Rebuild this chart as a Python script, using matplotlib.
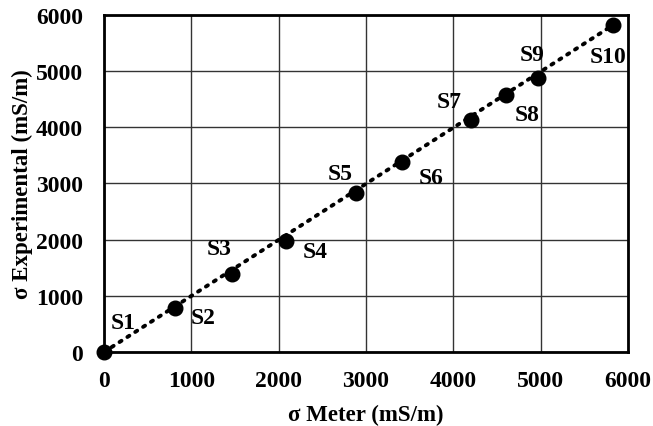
import matplotlib
matplotlib.use("Agg")
import matplotlib.pyplot as plt

# sample values
labels = ["S1", "S2", "S3", "S4", "S5", "S6", "S7", "S8", "S9", "S10"]
meter = [0, 815, 1465, 2085, 2890, 3415, 4205, 4605, 4970, 5830]
experimental = [0, 790, 1395, 1980, 2835, 3385, 4120, 4570, 4870, 5820]

# label offsets in points, relative to each point
offsets = [(14, 21), (20, -7), (-9, 18), (21, -8), (-12, 14),
           (21, -11), (-16, 14), (15, -14), (-4, 17), (-4, -23)]

plt.rcParams['font.family'] = ['Liberation Serif', 'DejaVu Serif']
plt.rcParams['font.weight'] = 'bold'

fig = plt.figure(figsize=(6.53, 4.27), dpi=100)
ax = fig.add_axes([0.159, 0.173, 0.803, 0.79])

# trend line through the origin and the last sample
ax.plot([0, meter[-1]], [0, experimental[-1]], color='black', linestyle=(0, (0.6, 1.8)),
        linewidth=2.8, dash_capstyle='round', zorder=3)
ax.plot(meter, experimental, 'o', color='black', markersize=10.5, zorder=4, clip_on=False)

for lab, x, y, off in zip(labels, meter, experimental, offsets):
    ax.annotate(lab, (x, y), xytext=off, textcoords='offset points',
                ha='center', va='center', fontsize=17, fontweight='bold')

ax.set_xlim(0, 6000)
ax.set_ylim(0, 6000)
ax.set_xticks(range(0, 6001, 1000))
ax.set_yticks(range(0, 6001, 1000))
ax.tick_params(length=0, labelsize=17, pad=13)
ax.tick_params(axis='y', pad=15)
ax.grid(True, color='#333333', linewidth=1.0)
ax.set_axisbelow(True)
for s in ax.spines.values():
    s.set_linewidth(2.0)

ax.set_xlabel("σ Meter (mS/m)", fontsize=16.5, fontweight='bold', labelpad=9)
ax.set_ylabel("σ Experimental (mS/m)", fontsize=16.5, fontweight='bold', labelpad=2)

fig.savefig("out.png", dpi=100)
